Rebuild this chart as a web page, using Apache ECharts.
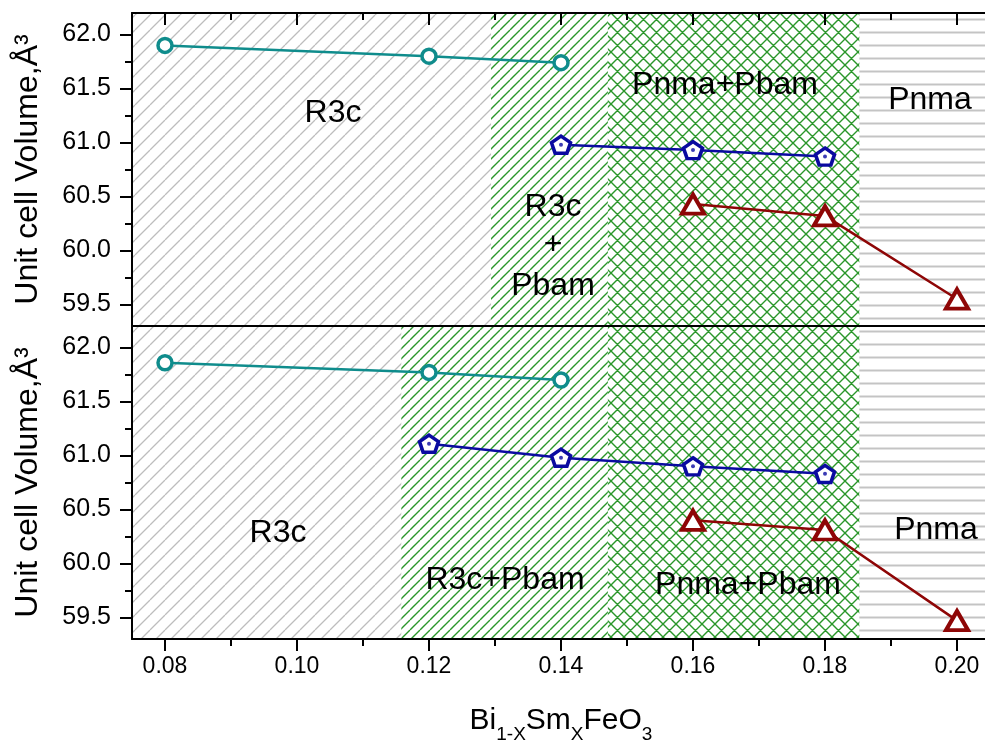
<!DOCTYPE html>
<html>
<head>
<meta charset="utf-8">
<script src="https://cdn.jsdelivr.net/npm/echarts@6/dist/echarts.min.js"></script>
<style>
html, body { margin: 0; padding: 0; background: #fff; }
#main { width: 985px; height: 743px; }
</style>
</head>
<body>
<div id="main"></div>
<script>
var xTicks = [0.08, 0.10, 0.12, 0.14, 0.16, 0.18, 0.20];
var yTicks = [59.5, 60.0, 60.5, 61.0, 61.5, 62.0];

// upper panel
var topR3cX = [0.08, 0.12, 0.14];
var topR3cV = [61.90, 61.80, 61.74];
var topPbamX = [0.14, 0.16, 0.18];
var topPbamV = [60.98, 60.93, 60.87];
var topPnmaX = [0.16, 0.18, 0.20];
var topPnmaV = [60.43, 60.32, 59.55];

// lower panel
var botR3cX = [0.08, 0.12, 0.14];
var botR3cV = [61.86, 61.77, 61.70];
var botPbamX = [0.12, 0.14, 0.16, 0.18];
var botPbamV = [61.11, 60.98, 60.90, 60.83];
var botPnmaX = [0.16, 0.18, 0.20];
var botPnmaV = [60.40, 60.31, 59.47];

// phase boundaries (x)
var topBounds = [0.075, 0.1294, 0.1471, 0.1852, 0.205];
var botBounds = [0.075, 0.1158, 0.1471, 0.1852, 0.205];

var FONT = 'Liberation Sans';
var teal = '#0f8c8c', blue = '#0a0aa0', red = '#8e0606';

function hatch(kind, color, s, w) {
	var c = document.createElement('canvas');
	c.width = s; c.height = s;
	var g = c.getContext('2d');
	g.strokeStyle = color;
	g.lineWidth = w;
	g.beginPath();
	var k;
	if (kind === 'h') { g.moveTo(0, s / 2); g.lineTo(s, s / 2); }
	if (kind === '/' || kind === 'x') {
		for (k = -1; k <= 1; k++) { g.moveTo(k * s, s); g.lineTo(k * s + s, 0); }
	}
	if (kind === 'x') {
		for (k = -1; k <= 1; k++) { g.moveTo(k * s, 0); g.lineTo(k * s + s, s); }
	}
	g.stroke();
	return { image: c, repeat: 'repeat' };
}

var pats = [
	hatch('/', '#bdbdbd', 15, 1.3),
	hatch('/', '#2a962a', 10, 1.4),
	hatch('x', '#2a962a', 13, 1.4),
	hatch('h', '#c4c4c4', 13, 2)
];

function areas(b) {
	var out = [];
	for (var i = 0; i < 4; i++) {
		out.push([{ xAxis: b[i], itemStyle: { color: pats[i] } }, { xAxis: b[i + 1] }]);
	}
	return out;
}

function zip(xs, vs) {
	return xs.map(function (x, i) { return [x, vs[i]]; });
}

var pentagon = 'path://M0,-1L0.951,-0.309L0.588,0.809L-0.588,0.809L-0.951,-0.309Z';

function curve(gi, xs, vs, color, symbol, size, bw) {
	return {
		type: 'line', xAxisIndex: gi * 2, yAxisIndex: gi, z: 3,
		data: zip(xs, vs),
		symbol: symbol, symbolSize: size, symbolKeepAspect: true,
		lineStyle: { color: color, width: 2.5 },
		itemStyle: { color: '#fff', borderColor: color, borderWidth: bw },
		silent: true, animation: false
	};
}

function dots(gi, xs, vs) {
	return {
		type: 'scatter', xAxisIndex: gi * 2, yAxisIndex: gi, z: 4,
		data: zip(xs, vs), symbol: 'circle', symbolSize: 4,
		itemStyle: { color: blue }, silent: true, animation: false
	};
}

function bg(gi, b) {
	return {
		type: 'line', xAxisIndex: gi * 2, yAxisIndex: gi, z: 1, data: [],
		markArea: { silent: true, data: areas(b) }, animation: false
	};
}

function yAx(gi) {
	return {
		gridIndex: gi, type: 'value', min: 59.3, max: 62.2, splitNumber: 5, z: 10,
		axisLine: { show: true, lineStyle: { color: '#000', width: 2 } },
		axisTick: { show: true, length: 12, customValues: yTicks, lineStyle: { color: '#000', width: 2 } },
		minorTick: { show: true, splitNumber: 2, length: 7, lineStyle: { color: '#000', width: 2 } },
		axisLabel: { customValues: yTicks, formatter: function (v) { return v.toFixed(1); },
			fontSize: 25, color: '#000', fontFamily: FONT, margin: 21 },
		splitLine: { show: false },
		name: 'Unit cell Volume,Å³', nameLocation: 'middle', nameGap: 88,
		nameTextStyle: { fontSize: 32, color: '#000', fontFamily: FONT }
	};
}

function xAx(gi, pos, extra) {
	var a = {
		gridIndex: gi, type: 'value', position: pos, min: 0.075, max: 0.205, splitNumber: 6, z: 10,
		axisLine: { show: true, onZero: false, lineStyle: { color: '#000', width: 2 } },
		axisTick: { show: false },
		minorTick: { show: false },
		axisLabel: { show: false },
		splitLine: { show: false }
	};
	for (var k in extra) a[k] = extra[k];
	return a;
}

var tickX = { show: true, length: 12, customValues: xTicks, lineStyle: { color: '#000', width: 2 } };
var minorX = { show: true, splitNumber: 2, length: 7, lineStyle: { color: '#000', width: 2 } };

var chart = echarts.init(document.getElementById('main'));

var option = {
	backgroundColor: '#fff',
	animation: false,
	grid: [
		{ left: 132, top: 13, width: 858, height: 313, outerBoundsMode: 'none', containLabel: false },
		{ left: 132, top: 326, width: 858, height: 313, outerBoundsMode: 'none', containLabel: false }
	],
	xAxis: [
		xAx(0, 'top', { axisTick: { show: true, inside: true, length: 12, customValues: xTicks, lineStyle: { color: '#000', width: 2 } },
			minorTick: minorX }),
		xAx(0, 'bottom', {}),
		xAx(1, 'bottom', {
			axisTick: tickX, minorTick: minorX,
			axisLabel: { show: true, customValues: xTicks, formatter: function (v) { return v.toFixed(2); },
				fontSize: 23, color: '#000', fontFamily: FONT, margin: 16 },
			name: '{a|Bi}{s|1-X}{a|Sm}{s|X}{a|FeO}{s|3}', nameLocation: 'middle', nameGap: 67,
			nameTextStyle: {
				color: '#000', fontFamily: FONT,
				rich: {
					a: { fontSize: 30, fontFamily: FONT, color: '#000', verticalAlign: 'top', lineHeight: 30 },
					s: { fontSize: 19, fontFamily: FONT, color: '#000', verticalAlign: 'top', lineHeight: 19, padding: [19, 0, 0, 0] }
				}
			}
		})
	],
	yAxis: [yAx(0), yAx(1)],
	series: [
		bg(0, topBounds),
		bg(1, botBounds),
		curve(0, topR3cX, topR3cV, teal, 'circle', 14, 3.5),
		curve(0, topPbamX, topPbamV, blue, pentagon, [19, 18], 3.5),
		curve(0, topPnmaX, topPnmaV, red, 'triangle', [22, 19], 4),
		dots(0, topPbamX, topPbamV),
		curve(1, botR3cX, botR3cV, teal, 'circle', 14, 3.5),
		curve(1, botPbamX, botPbamV, blue, pentagon, [19, 18], 3.5),
		curve(1, botPnmaX, botPnmaV, red, 'triangle', [22, 19], 4),
		dots(1, botPbamX, botPbamV)
	],
	graphic: [
		['R3c', 333, 113], ['R3c', 553, 207], ['+', 553, 245], ['Pbam', 553, 286],
		['Pnma+Pbam', 725, 85], ['Pnma', 930, 100],
		['R3c', 278, 533], ['R3c+Pbam', 505, 580], ['Pnma+Pbam', 748, 585], ['Pnma', 936, 530]
	].map(function (t) {
		return { type: 'text', x: t[1], y: t[2], z: 20, silent: true,
			style: { text: t[0], font: '32px "Liberation Sans"', fill: '#000', align: 'center', verticalAlign: 'middle' } };
	})
};

chart.setOption(option);
</script>
</body>
</html>
